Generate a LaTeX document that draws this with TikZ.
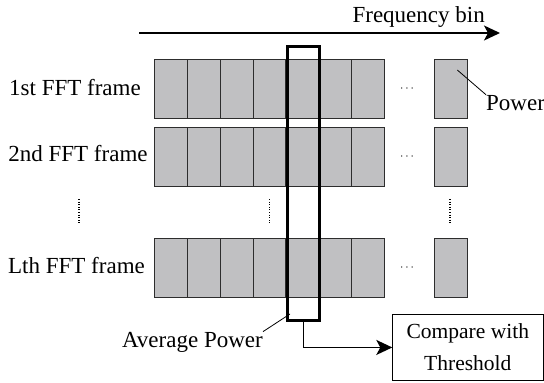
\documentclass[tikz,border=0pt]{standalone}
\usepackage{fontspec}
\setmainfont{Liberation Serif}
\usetikzlibrary{arrows.meta}
\definecolor{cellfill}{RGB}{192,192,194}
\definecolor{celledge}{RGB}{45,45,45}
\tikzset{
  cell/.style={draw=celledge, fill=cellfill, line width=0.9pt, inner sep=0pt,
    minimum width=32.86pt, minimum height=59pt, anchor=north west},
  lbl/.style={font=\fontsize{23}{27}\selectfont, inner sep=0pt, anchor=base},
  boxlbl/.style={font=\fontsize{21.5}{26}\selectfont, inner sep=0pt, anchor=base},
  ellip/.style={font=\fontsize{13}{15}\selectfont, inner sep=0pt},
  vdots/.style={line width=1.4pt, dash pattern=on 1pt off 1.6pt},
  bigarrow/.style={line width=1.6pt, -{Stealth[length=16pt,width=15pt,inset=4pt]}},
  leader/.style={line width=0.8pt},
}
\begin{document}
\begin{tikzpicture}[x=1pt,y=-1pt]
\useasboundingbox (0,0) rectangle (544,383);

% frequency axis
\coordinate (fa) at (139,33);
\coordinate (fb) at (500,33);
\draw[bigarrow] (fa) -- (fb);
\node[lbl, anchor=base east] (freq) at (485,22.7) {Frequency bin};

% rows of bins: index, top edge
\foreach \r/\top in {1/59, 2/126.5, L/237.7}{
  \foreach \i in {1,...,7}{
    \node[cell] (c-\r-\i) at ({154+(\i-1)*32.86},\top) {};
  }
  \node[cell] (c-\r-last) at (434,\top) {};
  \node[ellip] (dots-\r) at (407,{\top+30}) {$\cdots$};
}

% frame labels
\node[lbl] (f1) at (75,95) {1st FFT frame};
\node[lbl] (f2) at (78,161.7) {2nd FFT frame};
\node[lbl] (fL) at (76.5,273.3) {Lth FFT frame};

% vertical continuation dots
\coordinate (v1a) at (79,199);  \coordinate (v1b) at (79,223);
\coordinate (v2a) at (269.5,199); \coordinate (v2b) at (269.5,223);
\coordinate (v3a) at (450,199); \coordinate (v3b) at (450,223);
\draw[vdots] (v1a) -- (v1b);
\draw[vdots] (v2a) -- (v2b);
\draw[vdots] (v3a) -- (v3b);

% power label
\node[lbl, anchor=base west] (pw) at (486,110) {Power};
\coordinate (pwin) at (457.3,70);
\draw[leader] (pwin) -- (pw.north west);

% averaging window over one bin
\node[draw=black, line width=3.2pt, inner sep=0pt, minimum width=32.3pt,
      minimum height=273.5pt, anchor=north west] (avg) at (285.7,45) {};

% average power label
\node[lbl, anchor=base east] (ap) at (263,347) {Average Power};
\coordinate (apin) at (290,314);
\draw[leader] (ap.north east) -- (apin);

% threshold comparison
\node[draw=black, line width=0.9pt, minimum width=151pt, minimum height=66pt,
      inner sep=0pt, anchor=north west] (cmp) at (392.3,314) {};
\node[boxlbl] (cmp1) at (467.8,338.3) {Compare with};
\node[boxlbl] (cmp2) at (467.8,370) {Threshold};
\draw[bigarrow] (avg.south) |- (cmp.west);
\end{tikzpicture}
\end{document}
